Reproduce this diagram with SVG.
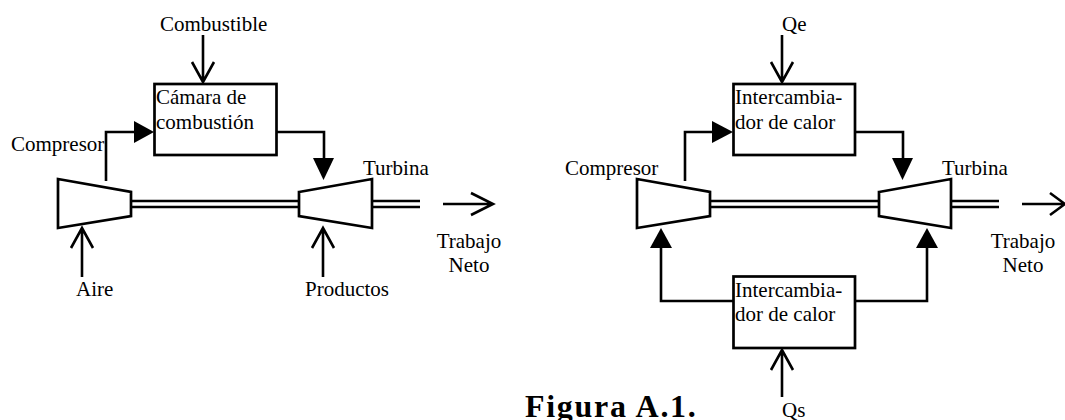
<svg xmlns="http://www.w3.org/2000/svg" width="1065" height="420" viewBox="0 0 1065 420">
<style>
.s{fill:#fff;stroke:#000;stroke-width:2.7}
.c{fill:none;stroke:#000;stroke-width:2.6}
.h{fill:#000;stroke:none}
text{font-family:"Liberation Serif","Times New Roman",serif;font-size:21px;fill:#000}
.m{text-anchor:middle}
.t{font-size:32px;font-weight:bold;letter-spacing:1.7px}
</style>
<rect width="1065" height="420" fill="#fff"/>
<g id="connectors">
<path class="c" d="M106 181V132H140M276 132H324V163M82 277V230M71 248L82 228L93 248M323 277V230M312 248L323 228L334 248M203 35V82M192 62L203 82L214 62M131 201H299M131 207H299M372 201H420M372 207H420M443 204H493M471 193L493 204L471 215"/>
<polygon class="h" points="134,121 154,132 134,143"/>
<polygon class="h" points="313,158 334,158 323.500,180"/>
<path class="c" d="M685 181V132H719M855 132H903V163M782 35V82M771 62L782 82L793 62M661 244V301H733M855 301H927V244M782 397V350M771 370L782 350L793 370M711 201H878M711 207H878M951 201H999M951 207H999M1022 204H1065M1050 193L1065 204L1050 215"/>
<polygon class="h" points="712,121 733,132 712,143"/>
<polygon class="h" points="892,158 913,158 902.500,180"/>
<polygon class="h" points="650,248 672,248 661,228"/>
<polygon class="h" points="916,248 938,248 927,228"/>
</g>
<g id="combustion-chamber">
<rect class="s" x="154.500" y="84" width="122" height="71"/>
<text x="156" y="104">Cámara de</text>
<text x="156" y="129">combustión</text>
</g>
<g id="compressor-left"><polygon class="s" points="58,179 131,192 131,216 58,228"/><text x="11" y="151">Compresor</text></g>
<g id="turbine-left"><polygon class="s" points="299,192 372,179 372,228 299,216"/><text x="363" y="175">Turbina</text></g>
<g id="heat-exchanger-top">
<rect class="s" x="733.500" y="84" width="121.500" height="71"/>
<text x="735" y="104">Intercambia-</text>
<text x="735" y="129">dor de calor</text>
</g>
<g id="heat-exchanger-bottom">
<rect class="s" x="733.500" y="276.500" width="121.500" height="71.500"/>
<text x="735" y="297">Intercambia-</text>
<text x="735" y="321">dor de calor</text>
</g>
<g id="compressor-right"><polygon class="s" points="637,179 710,192 710,216 637,228"/><text x="565" y="175">Compresor</text></g>
<g id="turbine-right"><polygon class="s" points="879,192 951,179 951,228 879,216"/><text x="942" y="175">Turbina</text></g>
<g id="labels">
<text x="160" y="31">Combustible</text>
<text x="76" y="296">Aire</text>
<text x="305" y="296">Productos</text>
<text class="m" x="469" y="248">Trabajo</text>
<text class="m" x="469" y="272">Neto</text>
<text x="782" y="31">Qe</text>
<text class="m" x="1023" y="248">Trabajo</text>
<text class="m" x="1023" y="272">Neto</text>
<text x="782" y="417">Qs</text>
<text class="t" x="525" y="417">Figura A.1.</text>
</g>
</svg>
